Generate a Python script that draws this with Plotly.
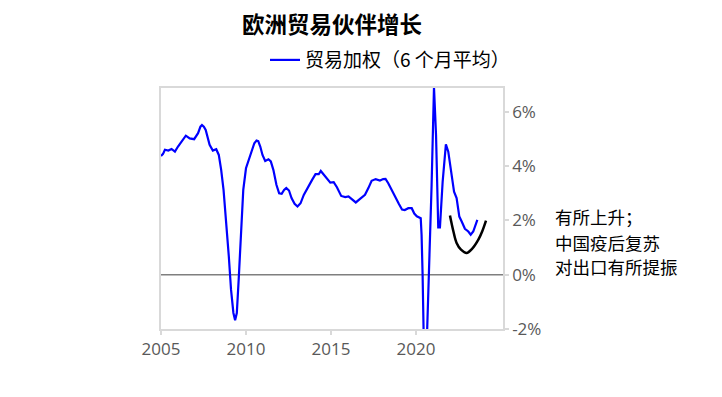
import plotly.graph_objects as go

years = [2005.0, 2005.12, 2005.23, 2005.43, 2005.62, 2005.82, 2006.0, 2006.2, 2006.46, 2006.69,
         2006.95, 2007.18, 2007.32, 2007.41, 2007.52, 2007.63, 2007.86, 2008.05, 2008.25, 2008.4,
         2008.54, 2008.68, 2008.83, 2008.99, 2009.12, 2009.26, 2009.36, 2009.46, 2009.57, 2009.71,
         2009.84, 2010.0, 2010.16, 2010.29, 2010.49, 2010.62, 2010.72, 2010.84, 2010.97, 2011.13,
         2011.32, 2011.46, 2011.61, 2011.79, 2011.95, 2012.1, 2012.24, 2012.37, 2012.53, 2012.68,
         2012.86, 2013.03, 2013.21, 2013.4, 2013.66, 2013.89, 2014.09, 2014.28, 2014.4, 2014.57,
         2014.77, 2014.96, 2015.16, 2015.35, 2015.6, 2015.84, 2016.03, 2016.23, 2016.46, 2016.71,
         2017.0, 2017.2, 2017.39, 2017.63, 2017.88, 2018.07, 2018.21, 2018.37, 2018.56, 2018.79,
         2018.99, 2019.18, 2019.34, 2019.55, 2019.75, 2019.9, 2020.05, 2020.28, 2020.33, 2020.39,
         2020.47, 2020.56, 2020.66, 2020.78, 2020.92, 2021.06, 2021.18, 2021.31, 2021.41, 2021.57,
         2021.76, 2021.9, 2022.1, 2022.24, 2022.39, 2022.55, 2022.69, 2022.88, 2023.08, 2023.22,
         2023.37, 2023.61]
growth = [4.37, 4.45, 4.6, 4.57, 4.63, 4.53, 4.72, 4.9, 5.12, 5.02,
          4.99, 5.21, 5.45, 5.51, 5.45, 5.33, 4.78, 4.57, 4.62, 4.41,
          3.86, 3.12, 2.02, 0.67, -0.55, -1.41, -1.68, -1.41, -0.18, 1.65,
          3.12, 3.92, 4.23, 4.53, 4.84, 4.94, 4.92, 4.72, 4.41, 4.19,
          4.25, 4.17, 3.86, 3.31, 3.0, 2.98, 3.12, 3.19, 3.1, 2.82,
          2.61, 2.51, 2.63, 2.94, 3.25, 3.49, 3.7, 3.7, 3.82, 3.68,
          3.55, 3.39, 3.41, 3.22, 2.9, 2.86, 2.88, 2.76, 2.66, 2.79,
          2.94, 3.19, 3.46, 3.52, 3.47, 3.52, 3.53, 3.37, 3.12, 2.86,
          2.61, 2.4, 2.38, 2.45, 2.45, 2.25, 2.15, 2.08, 1.47, 0.0,
          -2.0, -6.0, -2.0, 0.25, 3.3, 6.9, 5.15, 1.74, 1.74, 3.43,
          4.8, 4.53, 3.74, 3.06, 2.82, 2.14, 1.96, 1.69, 1.59, 1.47,
          1.59, 2.02]

arc_x = [2022.0, 2022.2, 2022.39, 2022.65, 2022.98, 2023.3, 2023.67, 2023.9, 2024.12]
arc_y = [2.18, 1.6, 1.17, 0.92, 0.8, 0.95, 1.29, 1.6, 1.99]

x_ticks = [2005, 2010, 2015, 2020]
y_ticks = [-2, 0, 2, 4, 6]
y_labels = ["-2%", "0%", "2%", "4%", "6%"]

title_text = "欧洲贸易伙伴增长"
series_name = "贸易加权（6 个月平均）"
note_lines = ["有所上升；", "中国疫后复苏", "对出口有所提振"]

CJK = "Noto Sans CJK SC"
GREY = "#595959"
OFF = 8  # page body margin offset
W, H = 722 - OFF, 397 - OFF
PL, PT, PR, PB = 161, 88, 503, 329.5  # plot box in reference pixels
PW, PH = PR - PL, PB - PT

fig = go.Figure()
fig.add_trace(go.Scatter(x=years, y=growth, mode="lines", name=series_name,
                         line=dict(color="#0000FF", width=2.2)))
fig.add_trace(go.Scatter(x=arc_x, y=arc_y, mode="lines", showlegend=False,
                         line=dict(color="#000000", width=2.5, shape="spline"),
                         hoverinfo="skip"))

fig.add_shape(type="line", xref="paper", x0=0, x1=1, yref="y", y0=0, y1=0,
              line=dict(color="#7f7f7f", width=1.5), layer="below")

note_y = [217, 243, 267]
for txt, py in zip(note_lines, note_y):
    fig.add_annotation(text=txt, xref="paper", yref="paper",
                       x=(553 - PL) / PW, y=(PB - py) / PH,
                       xanchor="left", yanchor="middle", showarrow=False,
                       font=dict(family=CJK, size=17.5, color="#000000"))

fig.update_layout(
    width=W, height=H,
    margin=dict(l=PL - OFF, r=W - (PR - OFF), t=PT - OFF, b=H - (PB - OFF)),
    paper_bgcolor="white", plot_bgcolor="white",
    title=dict(text="<b>" + title_text + "</b>", x=(332 - OFF) / W, xanchor="center",
               y=1 - (25 - OFF) / H, yanchor="middle",
               font=dict(family=CJK, size=22.5, color="#000000")),
    showlegend=True,
    legend=dict(orientation="h", x=(265 - PL) / PW, xanchor="left",
                y=(PB - 60) / PH, yanchor="middle",
                font=dict(family=CJK, size=19, color="#000000"),
                bgcolor="rgba(0,0,0,0)"),
    xaxis=dict(range=[2005, 2025.12], tickmode="array", tickvals=x_ticks,
               ticktext=[str(v) for v in x_ticks],
               showgrid=False, zeroline=False, showline=True, mirror=True,
               linecolor="#d9d9d9", linewidth=1.5,
               ticks="outside", ticklen=4, tickcolor="#d9d9d9", tickwidth=1.5,
               tickfont=dict(family="Open Sans", size=17, color=GREY)),
    yaxis=dict(range=[-2, 6.875], side="right", tickmode="array", tickvals=y_ticks,
               ticktext=y_labels,
               showgrid=False, zeroline=False, showline=True, mirror=True,
               linecolor="#d9d9d9", linewidth=1.5,
               ticks="outside", ticklen=4, tickcolor="#d9d9d9", tickwidth=1.5,
               tickfont=dict(family="Open Sans", size=17, color=GREY)),
)

fig.write_html("out.html")
